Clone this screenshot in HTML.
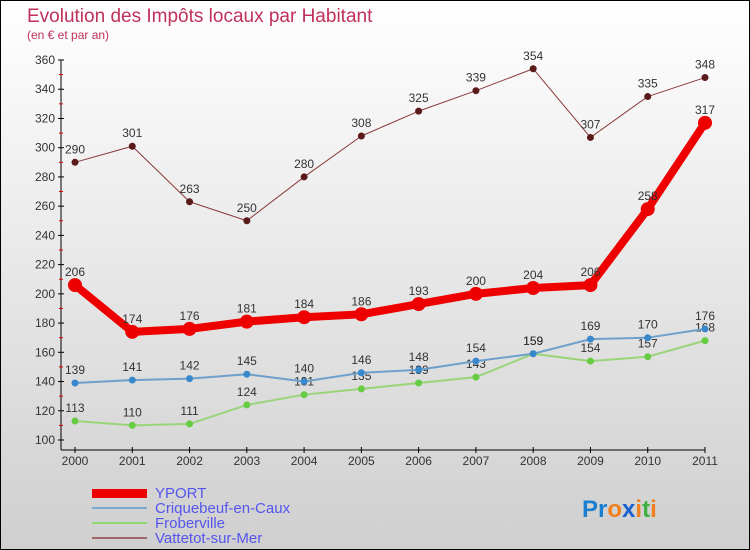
<!DOCTYPE html>
<html><head><meta charset="utf-8"><style>
body{margin:0}
#c{width:750px;height:550px;position:relative;overflow:hidden;box-sizing:border-box;border:1px solid #000;background:linear-gradient(#ffffff,#cfcfcf);font-family:"Liberation Sans",sans-serif}
</style></head><body>
<div id="c">
<svg id="s" width="750" height="550" style="position:absolute;left:-1px;top:-1px">
<text x="27" y="22" font-size="19" fill="#c0305a">Evolution des Impôts locaux par Habitant</text>
<text x="27" y="39" font-size="12" fill="#c0305a">(en € et par an)</text>
<g id="axes"></g><g id="series"></g>
<g font-size="15" fill="#5555ee">
<rect x="92" y="489" width="55" height="9" fill="#e00"/>
<text x="155" y="498">YPORT</text>
<line x1="92" y1="508" x2="147" y2="508" stroke="#7aaad0" stroke-width="2"/>
<text x="155" y="513">Criquebeuf-en-Caux</text>
<line x1="92" y1="523" x2="147" y2="523" stroke="#90d870" stroke-width="2"/>
<text x="155" y="528">Froberville</text>
<line x1="92" y1="538" x2="147" y2="538" stroke="#a06868" stroke-width="2"/>
<text x="155" y="543">Vattetot-sur-Mer</text>
</g>
<text x="582" y="517" font-size="24" font-weight="bold"><tspan fill="#1a7fd0">Pr</tspan><tspan fill="#f08020">o</tspan><tspan fill="#1a60d0">x</tspan><tspan fill="#f08020">i</tspan><tspan fill="#40b040">t</tspan><tspan fill="#f08020">i</tspan></text>
</svg>
</div>
<script>
const years=[2000,2001,2002,2003,2004,2005,2006,2007,2008,2009,2010,2011];
const yport=[206,174,176,181,184,186,193,200,204,206,258,317];
const criq=[139,141,142,145,140,146,148,154,159,169,170,176];
const frob=[113,110,111,124,131,135,139,143,159,154,157,168];
const vatt=[290,301,263,250,280,308,325,339,354,307,335,348];
const yTicks=[100,120,140,160,180,200,220,240,260,280,300,320,340,360];
const NS="http://www.w3.org/2000/svg";
const X=i=>75+i*(630/11);
const Y=v=>440-(v-100)*(380/260);
function mk(t,a,p){const e=document.createElementNS(NS,t);for(const k in a)e.setAttribute(k,a[k]);p.appendChild(e);return e;}
const ax=document.getElementById('axes');
let yl=mk('line',{x1:61,y1:60,x2:61,y2:450,stroke:'#000'},ax);


let xl=mk('line',{x1:61,y1:450,x2:705,y2:450,stroke:'#000'},ax);


yTicks.forEach(v=>{
  mk('line',{x1:58,y1:Y(v),x2:64,y2:Y(v),stroke:'#000'},ax);
  if(v<360)mk('line',{x1:59,y1:Y(v+10),x2:63,y2:Y(v+10),stroke:'#d00'},ax);
  const t=mk('text',{x:55,y:Y(v)+4,'font-size':12,fill:'#333','text-anchor':'end'},ax);
  t.textContent=v;
  
  
});
years.forEach((y,i)=>{
  mk('line',{x1:X(i),y1:447,x2:X(i),y2:453,stroke:'#000'},ax);
  const t=mk('text',{x:X(i),y:465,'font-size':12,fill:'#333','text-anchor':'middle'},ax);
  t.textContent=y;
  
  
});
const sg=document.getElementById('series');
function series(vals,color,w,r,dot,name){
  const g=mk('g',{},sg);
  
  
  mk('polyline',{points:vals.map((v,i)=>X(i)+','+Y(v)).join(' '),fill:'none',stroke:color,'stroke-width':w,'stroke-linejoin':'round'},g);
  vals.forEach((v,i)=>{
    const c=mk('circle',{cx:X(i),cy:Y(v),r:r,fill:dot},g);
    
    
    const t=mk('text',{x:X(i),y:Y(v)-9,'font-size':12,fill:'#333','text-anchor':'middle'},g);
    t.textContent=v;
  });
}
series(frob,'#9ad47a',2,3.5,'#66cc44','series-froberville');
series(criq,'#6fa0cc',2,3.5,'#3a88cc','series-criquebeuf');
series(vatt,'#8a3a3a',1,3.5,'#5a1a1a','series-vattetot');
series(yport,'#ee0000',8,7,'#ee0000','series-yport');
</script>
</body></html>
